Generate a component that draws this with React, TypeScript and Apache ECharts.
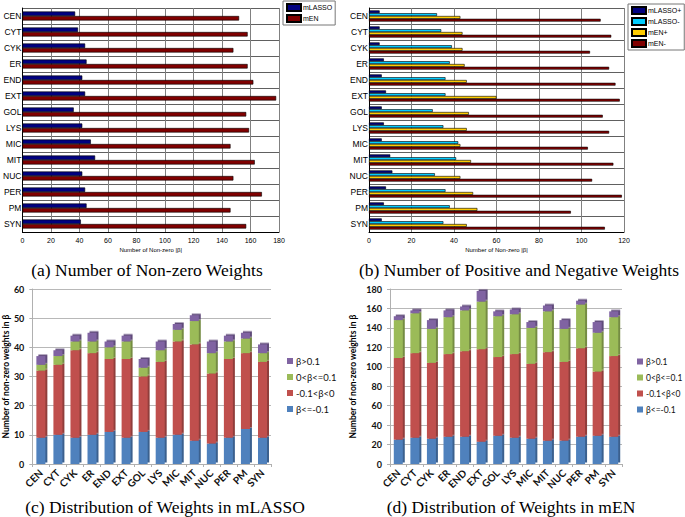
import React, { useEffect, useRef } from "react";
import * as echarts from "echarts";

const categories = ["CEN", "CYT", "CYK", "ER", "END", "EXT", "GOL", "LYS", "MIC", "MIT", "NUC", "PER", "PM", "SYN"];

// (a) Number of non-zero weights
const nonZeroLasso = [37, 39, 44, 45, 42, 44, 36, 42, 48, 51, 42, 44, 45, 41];
const nonZeroEN = [152, 158, 148, 158, 162, 178, 157, 159, 146, 163, 148, 168, 146, 157];

// (b) Number of positive and negative weights
const lassoPos = [5, 5, 5, 7, 6, 8, 6, 7, 6, 10, 11, 8, 7, 6];
const lassoNeg = [32, 34, 39, 38, 36, 36, 30, 35, 42, 41, 31, 36, 38, 35];
const enPos = [43, 44, 44, 45, 46, 60, 47, 46, 43, 48, 43, 49, 51, 46];
const enNeg = [109, 114, 104, 113, 116, 118, 110, 113, 103, 115, 105, 119, 95, 111];

// (c) Distribution of weights in mLASSO
const lassoLeNeg = [9, 10, 9, 10, 11, 9, 11, 9, 10, 8, 7, 9, 12, 9];
const lassoSmallNeg = [23, 24, 30, 28, 25, 27, 19, 26, 32, 33, 24, 27, 26, 26];
const lassoSmallPos = [2, 3, 3, 4, 4, 6, 3, 4, 4, 8, 7, 6, 5, 3];
const lassoGtPos = [3, 2, 2, 3, 2, 2, 3, 3, 2, 2, 4, 2, 2, 3];

// (d) Distribution of weights in mEN
const enLeNeg = [25, 27, 26, 28, 28, 23, 29, 27, 26, 24, 24, 28, 29, 28];
const enSmallNeg = [84, 87, 78, 85, 88, 95, 81, 86, 77, 91, 81, 91, 66, 83];
const enSmallPos = [39, 41, 35, 38, 42, 49, 42, 41, 37, 42, 34, 45, 40, 40];
const enGtPos = [4, 3, 9, 7, 4, 11, 5, 5, 6, 6, 9, 4, 11, 6];

const distNames = ["β<=-0.1", "-0.1<β<0", "0<β<=0.1", "β>0.1"];
const distColors = ["#4F81BD", "#C0504D", "#9BBB59", "#8064A2"];
const distLegendOrder = ["β>0.1", "0<β<=0.1", "-0.1<β<0", "β<=-0.1"];

const captions = [
  "(a) Number of Non-zero Weights",
  "(b) Number of Positive and Negative Weights",
  "(c) Distribution of Weights in mLASSO",
  "(d) Distribution of Weights in mEN",
];

const SANS = "Liberation Sans";
const CALIBRI = "Lato";
const SERIF = "Liberation Serif";

function hbarAxes(gridIndex: number, max: number) {
  const x = {
    type: "value",
    gridIndex,
    min: 0,
    max,
    interval: 20,
    axisLine: { show: true, lineStyle: { color: "#000", width: 1 } },
    axisTick: { show: false },
    axisLabel: { fontSize: 7, color: "#000", fontFamily: SANS, margin: 5 },
    splitLine: { show: true, lineStyle: { color: "#808080", width: 1 } },
    name: "Number of Non-zero |β|",
    nameLocation: "middle",
    nameGap: 15,
    nameTextStyle: { fontSize: 6, color: "#000", fontFamily: SANS },
  };
  const y = {
    type: "category",
    gridIndex,
    data: categories,
    inverse: true,
    axisLine: { show: true, lineStyle: { color: "#000", width: 1 } },
    axisTick: { show: false },
    axisLabel: { fontSize: 8.5, color: "#000", fontFamily: SANS, margin: 1 },
    splitLine: { show: true, lineStyle: { color: "#606060", width: 1 } },
  };
  return { x, y };
}

function distAxes(gridIndex: number, max: number, interval: number, nameGap: number) {
  const x = {
    type: "category",
    gridIndex,
    data: categories,
    axisLine: { show: true, lineStyle: { color: "#b0b0b0", width: 1 } },
    axisTick: { show: true, length: 3, lineStyle: { color: "#b0b0b0" } },
    axisLabel: {
      show: true,
      rotate: 45,
      interval: 0,
      fontSize: 10,
      fontWeight: "bold",
      color: "#111",
      fontFamily: CALIBRI,
      margin: 7,
    },
    splitLine: { show: false },
  };
  const y = {
    type: "value",
    gridIndex,
    min: 0,
    max,
    interval,
    axisLine: { show: true, lineStyle: { color: "#b0b0b0", width: 1 } },
    axisTick: { show: true, length: 3, lineStyle: { color: "#b0b0b0" } },
    axisLabel: { fontSize: 9, fontWeight: "bold", color: "#111", fontFamily: CALIBRI, margin: 8 },
    splitLine: { show: true, lineStyle: { color: "#b8b8b8", width: 1 } },
    name: "Number of non-zero weights in β",
    nameLocation: "middle",
    nameGap,
    nameTextStyle: { fontSize: 8.5, fontWeight: "bold", color: "#000", fontFamily: CALIBRI },
  };
  return { x, y };
}

function darker(hex: string, f: number) {
  const n = parseInt(hex.slice(1), 16);
  const r = Math.round(((n >> 16) & 255) * f);
  const g = Math.round(((n >> 8) & 255) * f);
  const b = Math.round((n & 255) * f);
  return `rgb(${r},${g},${b})`;
}

export default function App() {
  const ref = useRef<HTMLDivElement>(null);

  useEffect(() => {
    if (!ref.current) return;
    const chart = echarts.init(ref.current, undefined, { renderer: "svg" });

    const a = hbarAxes(0, 180);
    const b = hbarAxes(1, 120);
    const c = distAxes(2, 60, 10, 22);
    const d = distAxes(3, 180, 20, 33);

    const hbarStyle = (color: string) => ({ color, borderColor: "#000", borderWidth: 0.6 });

    const distSeries = (prefix: string, idx: number, arrays: number[][]) =>
      arrays.map((arr, i) => ({
        type: "bar",
        name: distNames[i],
        xAxisIndex: idx,
        yAxisIndex: idx,
        stack: prefix,
        barWidth: 9,
        data: arr,
        itemStyle: {
          color: distColors[i],
          shadowColor: darker(distColors[i], 0.75),
          shadowOffsetX: 2,
          shadowOffsetY: -1.5,
          shadowBlur: 0,
        },
      }));

    const legendCommon = {
      orient: "vertical",
      icon: "rect",
      itemWidth: 14,
      itemHeight: 7,
      itemGap: 2,
      padding: [2, 3],
      borderColor: "#777",
      borderWidth: 1,
      backgroundColor: "#fff",
      textStyle: { fontSize: 7, color: "#000", fontFamily: SANS, padding: [0, 0, 0, -3] },
    };

    const distLegend = (fontSize: number, gap: number) => ({
      orient: "vertical",
      icon: "rect",
      itemWidth: 6,
      itemHeight: 6,
      itemGap: gap,
      padding: 0,
      data: distLegendOrder,
      textStyle: { fontSize, color: "#111", fontFamily: CALIBRI, padding: [0, 0, 0, -2] },
    });

    const captionGraphics = [
      [147, 270],
      [519, 270],
      [165, 507],
      [511, 507],
    ].map(([x, y], i) => ({
      type: "text",
      x,
      y,
      style: { text: captions[i], font: `17.5px "${SERIF}"`, fill: "#000", textAlign: "center", textVerticalAlign: "middle" },
    }));

    chart.setOption({
      animation: false,
      backgroundColor: "#fff",
      grid: [
        { left: 18, top: 8, width: 261, height: 224 },
        { left: 369, top: 8, width: 255, height: 224 },
        { left: 32, top: 289, width: 239, height: 175 },
        { left: 390, top: 289, width: 232, height: 175 },
      ],
      xAxis: [a.x, b.x, c.x, d.x],
      yAxis: [a.y, b.y, c.y, d.y],
      legend: [
        { ...legendCommon, left: 283, top: 1, data: ["mLASSO", "mEN"] },
        { ...legendCommon, left: 628, top: 4, data: ["mLASSO+", "mLASSO-", "mEN+", "mEN-"] },
        { ...distLegend(9.5, 6), left: 287, top: 356 },
        { ...distLegend(8.5, 7), left: 637, top: 357 },
      ],
      series: [
        { type: "bar", name: "mLASSO", xAxisIndex: 0, yAxisIndex: 0, data: nonZeroLasso, barWidth: 4.5, barGap: "0%", itemStyle: hbarStyle("#000080") },
        { type: "bar", name: "mEN", xAxisIndex: 0, yAxisIndex: 0, data: nonZeroEN, barWidth: 4.5, barGap: "0%", itemStyle: hbarStyle("#800000") },
        { type: "bar", name: "mLASSO+", xAxisIndex: 1, yAxisIndex: 1, data: lassoPos, barWidth: 2.8, barGap: "0%", itemStyle: hbarStyle("#000080") },
        { type: "bar", name: "mLASSO-", xAxisIndex: 1, yAxisIndex: 1, data: lassoNeg, barWidth: 2.8, barGap: "0%", itemStyle: hbarStyle("#00CCFF") },
        { type: "bar", name: "mEN+", xAxisIndex: 1, yAxisIndex: 1, data: enPos, barWidth: 2.8, barGap: "0%", itemStyle: hbarStyle("#FFCC00") },
        { type: "bar", name: "mEN-", xAxisIndex: 1, yAxisIndex: 1, data: enNeg, barWidth: 2.8, barGap: "0%", itemStyle: hbarStyle("#800000") },
        ...distSeries("c", 2, [lassoLeNeg, lassoSmallNeg, lassoSmallPos, lassoGtPos]),
        ...distSeries("d", 3, [enLeNeg, enSmallNeg, enSmallPos, enGtPos]),
      ],
      graphic: captionGraphics,
    });

    return () => chart.dispose();
  }, []);

  return <div ref={ref} style={{ position: "fixed", left: 0, top: 0, width: 685, height: 517 }} />;
}
